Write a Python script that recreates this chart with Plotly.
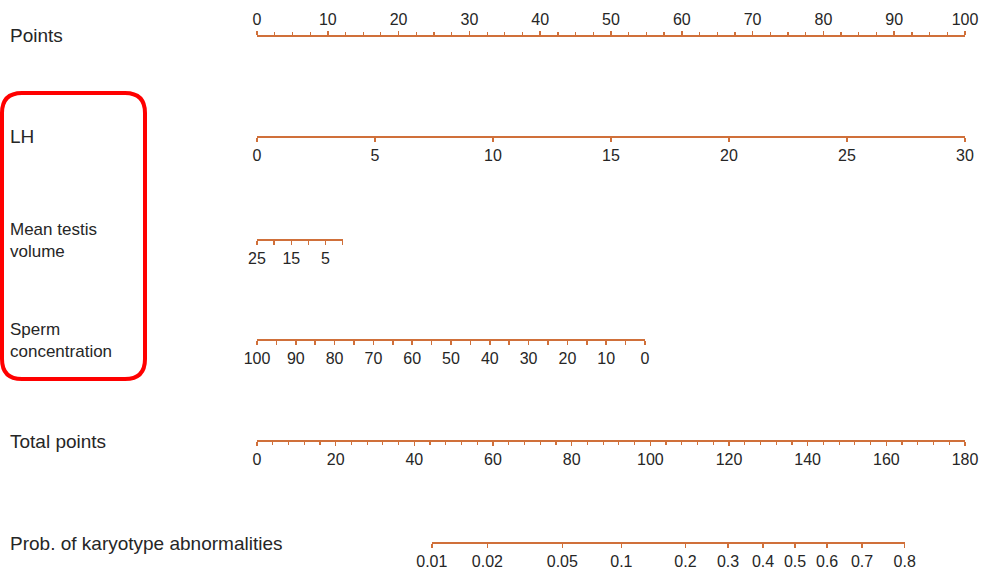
import math
import plotly.graph_objects as go

# ---------------- data ----------------
row_labels = ["Points", "LH", "Mean testis<br>volume", "Sperm<br>concentration",
              "Total points", "Prob. of karyotype abnormalities"]

points_ticks = [0, 10, 20, 30, 40, 50, 60, 70, 80, 90, 100]
lh_ticks = [0, 5, 10, 15, 20, 25, 30]
lh_max_points = 100.0            # points at LH = 30
mtv_ticks = [25, 20, 15, 10, 5, 0]
mtv_text = ["25", "", "15", "", "5", ""]
mtv_max_points = 12.1            # points at volume = 0
sperm_ticks = [100, 95, 90, 85, 80, 75, 70, 65, 60, 55, 50, 45, 40, 35, 30, 25, 20, 15, 10, 5, 0]
sperm_text = ["100", "", "90", "", "80", "", "70", "", "60", "", "50", "", "40", "", "30",
              "", "20", "", "10", "", "0"]
sperm_max_points = 54.8          # points at concentration = 0
total_ticks = [0, 20, 40, 60, 80, 100, 120, 140, 160, 180]
prob_ticks = [0.01, 0.02, 0.05, 0.1, 0.2, 0.3, 0.4, 0.5, 0.6, 0.7, 0.8]
prob_text = ["0.01", "0.02", "0.05", "0.1", "0.2", "0.3", "0.4", "0.5", "0.6", "0.7", "0.8"]
total_at_half = 136.8            # total points where probability = 0.5
total_per_logit = 20.1           # total points per logit unit

# ---------------- layout geometry ----------------
W, H = 989, 570
X0, X1 = 257, 965                # pixel span of Points / Total points scales
row_y = [36, 137, 240, 340, 441, 543]
COL = "rgb(208,112,58)"
TXT = "#262626"
FONT = "Liberation Sans, Arial, sans-serif"


def px(x):
    return x / W


def py(y):
    return 1 - y / H


def pts_dom(p):
    return px(X0 + p / 100.0 * (X1 - X0))


def tot_dom(t):
    return px(X0 + t / 180.0 * (X1 - X0))


def logit(p):
    return math.log(p / (1 - p))


prob_vals = [total_at_half + total_per_logit * logit(p) for p in prob_ticks]

fig = go.Figure()

base = dict(showline=True, linecolor=COL, linewidth=2, ticks="outside", tickcolor=COL,
            tickwidth=1.5, ticklen=4, showgrid=False, zeroline=False, anchor="free",
            automargin=False, layer="above traces",
            tickfont=dict(family=FONT, size=16, color=TXT), fixedrange=True)

axes = {}
# Points
axes["xaxis"] = dict(base, domain=[pts_dom(0), pts_dom(100)], range=[0, 100],
                     position=py(row_y[0]), side="top", tickmode="array",
                     tickvals=points_ticks, ticktext=[str(v) for v in points_ticks],
                     minor=dict(dtick=2.5, ticks="outside", ticklen=3, tickcolor=COL, tickwidth=1.2))
# LH
axes["xaxis2"] = dict(base, domain=[pts_dom(0), pts_dom(lh_max_points)], range=[0, 30],
                      position=py(row_y[1]), side="bottom", tickmode="array",
                      tickvals=lh_ticks, ticktext=[str(v) for v in lh_ticks])
# Mean testis volume
axes["xaxis3"] = dict(base, domain=[pts_dom(0), pts_dom(mtv_max_points)], range=[25, 0],
                      position=py(row_y[2]), side="bottom", tickmode="array",
                      tickvals=mtv_ticks, ticktext=mtv_text)
# Sperm concentration
axes["xaxis4"] = dict(base, domain=[pts_dom(0), pts_dom(sperm_max_points)], range=[100, 0],
                      position=py(row_y[3]), side="bottom", tickmode="array",
                      tickvals=sperm_ticks, ticktext=sperm_text)
# Total points
axes["xaxis5"] = dict(base, domain=[tot_dom(0), tot_dom(180)], range=[0, 180],
                      position=py(row_y[4]), side="bottom", tickmode="array",
                      tickvals=total_ticks, ticktext=[str(v) for v in total_ticks],
                      minor=dict(dtick=4, ticks="outside", ticklen=3, tickcolor=COL, tickwidth=1.2))
# Probability
axes["xaxis6"] = dict(base, domain=[tot_dom(prob_vals[0]), tot_dom(prob_vals[-1])],
                      range=[prob_vals[0], prob_vals[-1]],
                      position=py(row_y[5]), side="bottom", tickmode="array",
                      tickvals=prob_vals, ticktext=prob_text)

ranges = [(0, 100), (0, 30), (0, 25), (0, 100), (0, 180), (prob_vals[0], prob_vals[-1])]
for i, (a, b) in enumerate(ranges):
    xa = "x" if i == 0 else f"x{i + 1}"
    fig.add_trace(go.Scatter(x=[a, b], y=[0.5, 0.5], xaxis=xa, yaxis="y", mode="markers",
                             marker=dict(opacity=0, size=1), hoverinfo="skip", showlegend=False))

fig.update_layout(**axes)
fig.update_layout(yaxis=dict(visible=False, range=[0, 1], domain=[0, 1], fixedrange=True,
                             automargin=False))

# row labels (two-line labels are set slightly smaller)
for lab, y in zip(row_labels, row_y):
    size = 19 if "<br>" not in lab else 17
    fig.add_annotation(x=px(8), y=py(y), xref="paper", yref="paper", text=lab,
                       showarrow=False, xanchor="left", yanchor="middle", align="left",
                       font=dict(family=FONT, size=size, color=TXT))

# red rounded highlight box
bx0, bx1, by0, by1, r = px(2), px(145), py(93), py(379), 20
rx, ry = r / W, r / H
path = (f"M {bx0 + rx},{by0} L {bx1 - rx},{by0} Q {bx1},{by0} {bx1},{by0 - ry} "
        f"L {bx1},{by1 + ry} Q {bx1},{by1} {bx1 - rx},{by1} L {bx0 + rx},{by1} "
        f"Q {bx0},{by1} {bx0},{by1 + ry} L {bx0},{by0 - ry} Q {bx0},{by0} {bx0 + rx},{by0} Z")
fig.add_shape(type="path", path=path, xref="paper", yref="paper",
              line=dict(color="#ff0000", width=4))

fig.update_layout(width=W, height=H, margin=dict(l=0, r=0, t=0, b=0, pad=0, autoexpand=False),
                  paper_bgcolor="white", plot_bgcolor="rgba(0,0,0,0)", showlegend=False)

fig.write_html("out.html", config={"displayModeBar": False, "staticPlot": True},
               post_script="document.body.style.margin='0';document.body.style.overflow='hidden';")
